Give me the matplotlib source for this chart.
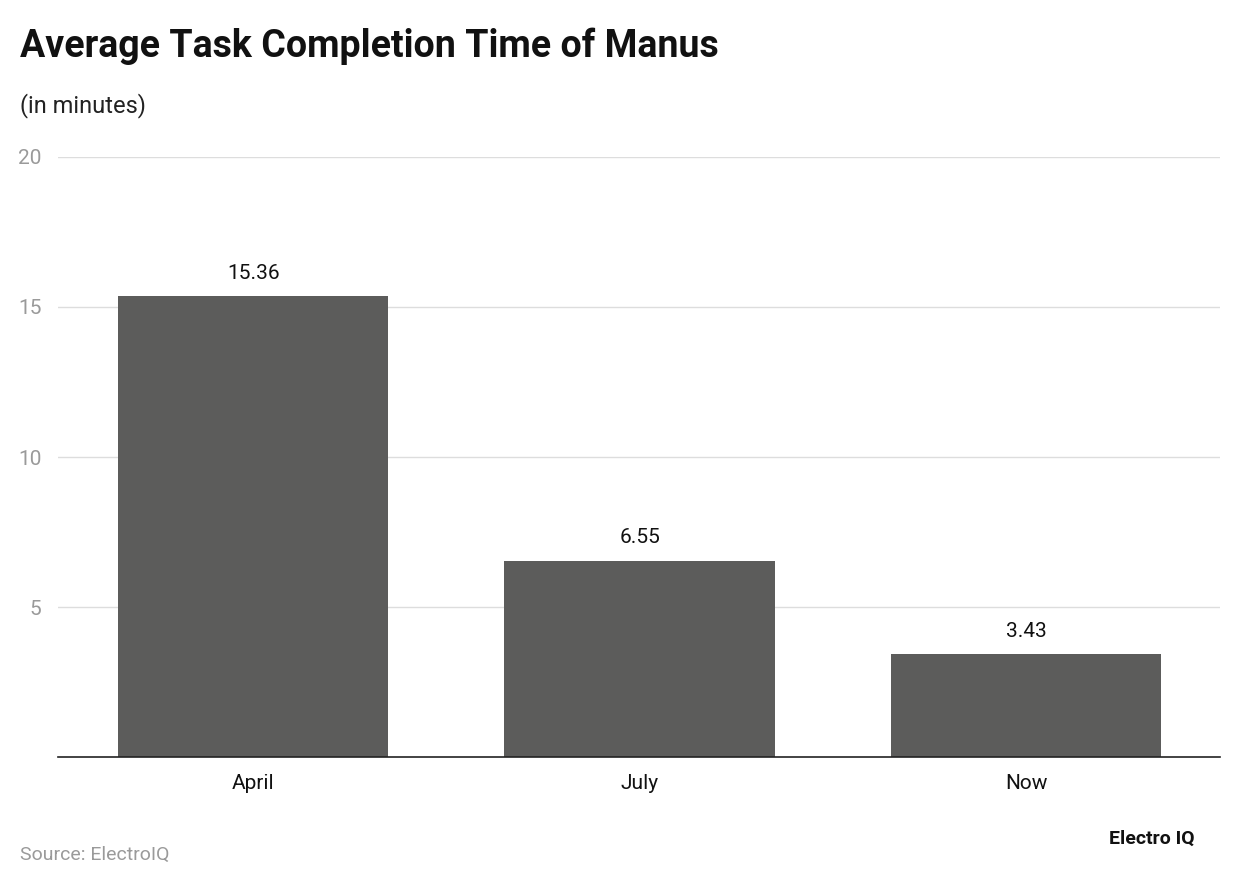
import matplotlib
matplotlib.use("Agg")
import matplotlib.pyplot as plt

categories = ["April", "July", "Now"]
values = [15.36, 6.55, 3.43]
labels = ["15.36", "6.55", "3.43"]
yticks = [5, 10, 15, 20]

plt.rcParams['font.family'] = ['Roboto', 'DejaVu Sans']

fig = plt.figure(figsize=(12.4, 8.88), dpi=100)
ax = fig.add_axes([58/1240, 1-757/888, (1220-58)/1240, 600/888])

x = range(len(categories))
ax.bar(x, values, width=0.70, color='#5c5c5b', zorder=3)
for xi, v, lab in zip(x, values, labels):
    ax.text(xi, v + 0.45, lab, ha='center', va='bottom', fontsize=15, color='#111111')

ax.set_xlim(-0.505, 2.502)
ax.set_ylim(0, 20)
ax.set_yticks(yticks)
ax.set_yticklabels([str(t) for t in yticks], fontsize=15, color='#9a9a9a')
ax.set_xticks(list(x))
ax.set_xticklabels(categories, fontsize=15, color='#111111')
ax.tick_params(axis='y', length=0, pad=12)
ax.tick_params(axis='x', length=0, pad=12)
ax.grid(axis='y', color='#dddddd', linewidth=1, zorder=0)
for s in ['top', 'right', 'left']:
    ax.spines[s].set_visible(False)
ax.spines['bottom'].set_color('#222222')
ax.spines['bottom'].set_linewidth(1.2)
ax.spines['bottom'].set_zorder(4)

fig.text(20/1240, 1-46/888, "Average Task Completion Time of Manus", fontsize=27,
         fontweight='bold', va='center', ha='left', color='#111111')
fig.text(20/1240, 1-106/888, "(in minutes)", fontsize=17, va='center', ha='left', color='#222222')
fig.text(20/1240, 1-855/888, "Source: ElectroIQ", fontsize=14, va='center', ha='left', color='#9a9a9a')
fig.text(1195/1240, 1-839/888, "Electro IQ", fontsize=14, fontweight='bold', va='center',
         ha='right', color='#111111')

fig.savefig("out.png", dpi=100)
